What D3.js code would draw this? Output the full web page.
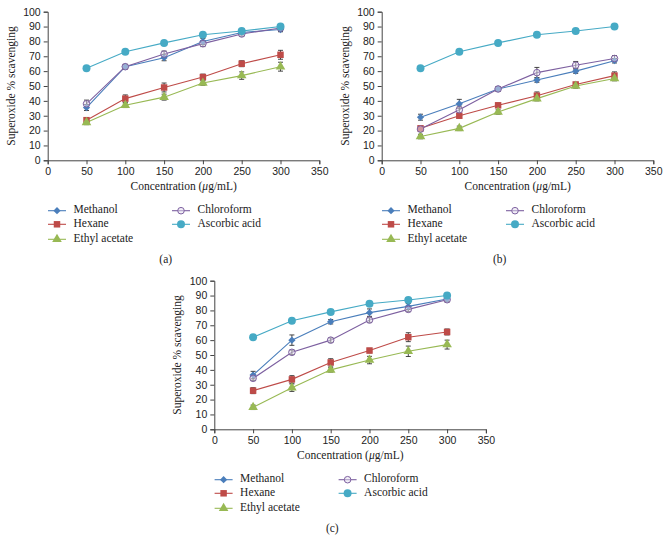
<!DOCTYPE html>
<html>
<head>
<meta charset="utf-8">
<script src="https://cdn.jsdelivr.net/npm/d3@7"></script>
<style>
  body { margin: 0; background: #fff; }
  svg { font-family: "Liberation Serif", "DejaVu Serif", serif; }
  .axis path, .axis line { stroke: #444; }
  .axis text { font-size: 10.5px; fill: #222; }
</style>
</head>
<body>
<svg id="chart" width="669" height="542"></svg>
<script>
// --- data ---
const concentrations = [50, 100, 150, 200, 250, 300];
const seriesNames = ["Methanol", "Hexane", "Ethyl acetate", "Chloroform", "Ascorbic acid"];
const seriesColors = ["#4a7ebb", "#be4b48", "#98b954", "#7d60a0", "#46aac5"];
const xTicks = [0, 50, 100, 150, 200, 250, 300, 350];
const yTicks = [0, 10, 20, 30, 40, 50, 60, 70, 80, 90, 100];
const panelLabels = ["(a)", "(b)", "(c)"];

// panel (a)
const aMethanol   = [35.5, 63, 69, 80, 86, 88];
const aHexane     = [27, 41.5, 49, 56, 65, 71];
const aEthyl      = [25.5, 37, 42.5, 52, 57, 63];
const aChloroform = [38, 63, 71.5, 78.5, 85, 89];
const aAscorbic   = [62, 73, 79, 84.5, 87, 90];
const aErrors = [
  [2, 1.5, 2, 2, 1.5, 1.5],
  [1.5, 2.5, 3, 2, 2, 3],
  [1.5, 1.5, 2, 1.5, 2.5, 3],
  [2.5, 1.5, 2, 2, 1.5, 2],
  [1, 1.5, 1.5, 1.5, 1.5, 1.5]
];

// panel (b)
const bMethanol   = [29, 38, 48, 54, 60, 67];
const bHexane     = [21.5, 30, 37, 43.5, 51, 57];
const bEthyl      = [16, 21.5, 32.5, 41.5, 50, 55];
const bChloroform = [21, 34, 48, 59, 64, 68.5];
const bAscorbic   = [62, 73, 79, 84.5, 87, 90];
const bErrors = [
  [2, 3, 1.5, 1.5, 1.5, 1.5],
  [1.5, 1.5, 1.5, 2.5, 1.5, 2.5],
  [1.5, 1.5, 1.5, 1.5, 1.5, 1.5],
  [1.5, 2.5, 1.5, 3.5, 2.5, 2],
  [1, 1.5, 1.5, 1, 1.5, 1.5]
];

// panel (c)
const cMethanol   = [36.5, 60, 72.4, 78.5, 82.7, 87.7];
const cHexane     = [26, 33.6, 45, 53, 62, 65.5];
const cEthyl      = [14.8, 28, 40, 46.6, 52.5, 57];
const cChloroform = [34.3, 51.8, 60, 73.5, 80.7, 87.2];
const cAscorbic   = [62, 73, 79, 84.5, 87, 90];
const cErrors = [
  [2.5, 3.5, 1.5, 2.5, 2, 1.5],
  [2, 2.5, 2.5, 1.5, 3, 2],
  [1.5, 2.5, 1.5, 2.5, 3.5, 3],
  [1.5, 1.5, 1.5, 1.5, 1.5, 1.5],
  [1, 1.5, 1.5, 1, 1.5, 1.5]
];

const panels = [
  { dx: 0,     dy: 0,   values: [aMethanol, aHexane, aEthyl, aChloroform, aAscorbic], errors: aErrors },
  { dx: 334,   dy: 0,   values: [bMethanol, bHexane, bEthyl, bChloroform, bAscorbic], errors: bErrors },
  { dx: 166.6, dy: 269, values: [cMethanol, cHexane, cEthyl, cChloroform, cAscorbic], errors: cErrors }
];

// --- layout ---
const svg = d3.select("#chart");
const plot = { left: 47.7, top: 11.7, width: 271.6, height: 148.6 };

const x = d3.scaleLinear().domain([0, 350]).range([0, plot.width]);
const y = d3.scaleLinear().domain([0, 100]).range([plot.height, 0]);
const line = d3.line().x((d, i) => x(concentrations[i])).y(d => y(d));

// diamond = square turned 45 degrees, like the Excel marker
const symbolTypes = [d3.symbolSquare, d3.symbolSquare, d3.symbolTriangle, d3.symbolCircle, d3.symbolCircle];
const symbolSizes = [26, 42, 40, 34, 50];

function drawMarker(sel, k) {
  const path = sel.append("path")
    .attr("d", d3.symbol().type(symbolTypes[k]).size(symbolSizes[k])());
  if (k === 0) path.attr("transform", "rotate(45)");
  if (k === 3) {
    path.attr("fill", "#e6e0ef").attr("fill-opacity", 0.5)
      .attr("stroke", seriesColors[k]).attr("stroke-width", 1);
  } else {
    path.attr("fill", seriesColors[k]);
  }
  return path;
}

panels.forEach((p, pi) => {
  const g = svg.append("g")
    .attr("transform", `translate(${plot.left + p.dx},${plot.top + p.dy})`);

  g.append("g").attr("class", "axis")
    .call(d3.axisLeft(y).tickValues(yTicks).tickSize(4).tickPadding(3));

  g.append("g").attr("class", "axis")
    .attr("transform", `translate(0,${plot.height})`)
    .call(d3.axisBottom(x).tickValues(xTicks).tickSize(4).tickPadding(3));

  // axis titles
  g.append("text")
    .attr("x", 136).attr("y", 178.5)
    .attr("text-anchor", "middle")
    .style("font-size", "11.5px").attr("fill", "#222")
    .html("Concentration (<tspan font-style='italic'>μ</tspan>g/mL)");

  g.append("text")
    .attr("transform", `translate(${12 - plot.left},${plot.height / 2}) rotate(-90)`)
    .attr("text-anchor", "middle").attr("dominant-baseline", "middle")
    .style("font-size", "11.5px").attr("fill", "#222")
    .text("Superoxide % scavenging");

  // lines
  p.values.forEach((vals, k) => {
    g.append("path")
      .datum(vals)
      .attr("fill", "none")
      .attr("stroke", seriesColors[k])
      .attr("stroke-width", 1.1)
      .attr("d", line);
  });

  // error bars
  p.values.forEach((vals, k) => {
    const eb = g.append("g").attr("stroke", "#333").attr("stroke-width", 0.9);
    vals.forEach((v, i) => {
      const cx = x(concentrations[i]);
      const e = p.errors[k][i];
      eb.append("line").attr("x1", cx).attr("x2", cx).attr("y1", y(v - e)).attr("y2", y(v + e));
      eb.append("line").attr("x1", cx - 2.5).attr("x2", cx + 2.5).attr("y1", y(v + e)).attr("y2", y(v + e));
      eb.append("line").attr("x1", cx - 2.5).attr("x2", cx + 2.5).attr("y1", y(v - e)).attr("y2", y(v - e));
    });
  });

  // markers
  p.values.forEach((vals, k) => {
    vals.forEach((v, i) => {
      const m = g.append("g")
        .attr("transform", `translate(${x(concentrations[i])},${y(v)})`);
      drawMarker(m, k);
    });
  });

  // legend
  const legendCols = [[0, 1, 2], [3, 4]];
  const colX = [0.3, 124.3];
  const rowY = [199, 212.6, 227.6];
  legendCols.forEach((col, ci) => {
    col.forEach((k, ri) => {
      const lg = g.append("g")
        .attr("transform", `translate(${colX[ci]},${rowY[ri]})`);
      lg.append("line").attr("x1", 0).attr("x2", 18)
        .attr("stroke", seriesColors[k]).attr("stroke-width", 1.1);
      drawMarker(lg.append("g").attr("transform", "translate(9,0)"), k);
      lg.append("text").attr("x", 25.5).attr("y", 0)
        .attr("dominant-baseline", "middle")
        .style("font-size", "11.5px").attr("fill", "#222")
        .text(seriesNames[k]);
    });
  });

  g.append("text")
    .attr("x", 118).attr("y", 249)
    .attr("text-anchor", "middle").attr("dominant-baseline", "middle")
    .style("font-size", "11.5px").attr("fill", "#222")
    .text(panelLabels[pi]);
});
</script>
</body>
</html>
